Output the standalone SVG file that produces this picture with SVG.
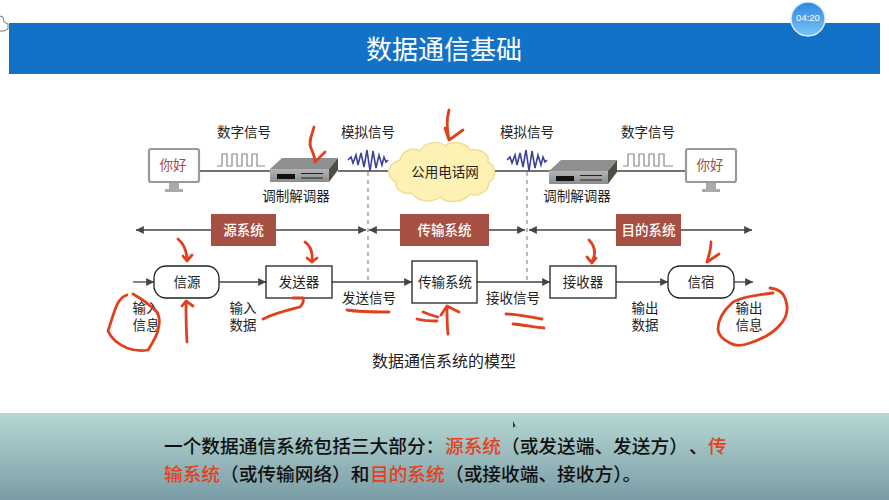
<svg xmlns="http://www.w3.org/2000/svg" width="889" height="500" viewBox="0 0 889 500">
<style>
text{font-family:"Noto Sans CJK SC","Noto Sans",sans-serif;text-anchor:middle;dominant-baseline:central;fill:#222}
.l{font-size:13.5px}
.tag{font-size:13.5px;fill:#fff;font-weight:500}
.box{fill:#fff;stroke:#222;stroke-width:1.3}
.ln{stroke:#444;stroke-width:1.3;fill:none}
.dash{stroke:#aaa;stroke-width:1.6;stroke-dasharray:4 4;fill:none}
.red{stroke:#e0401c;stroke-width:2.8;fill:none;stroke-linecap:round;stroke-linejoin:round}
.mon{fill:#fff;stroke:#999;stroke-width:2.2}
.stand{fill:#aaa}
.hi{font-size:13.5px;fill:#a64b3f}
.wave{fill:none;stroke:#3f4296;stroke-width:1.6}
.sq{fill:none;stroke:#888;stroke-width:1.2}
.o{fill:#e4421c}
.b{font-size:18.7px;text-anchor:start;font-weight:500;fill:#111}
</style>
<defs>
<marker id="a" markerWidth="7" markerHeight="6" refX="6" refY="3" orient="auto-start-reverse"><path d="M0 0L6 3L0 6z" fill="#444"/></marker>
<linearGradient id="band" x1="0" y1="0" x2="0" y2="1"><stop offset="0" stop-color="#b6d8d2"/><stop offset="1" stop-color="#7a9ca6"/></linearGradient>
<linearGradient id="clock" x1="0" y1="0" x2="0" y2="1"><stop offset="0" stop-color="#2f86e0"/><stop offset="1" stop-color="#7cc4f5"/></linearGradient>
<linearGradient id="front" x1="0" y1="0" x2="0" y2="1"><stop offset="0" stop-color="#b5b5b5"/><stop offset="1" stop-color="#8c8c8c"/></linearGradient>
<g id="modem">
<path d="M0 11L12 0H68L59 11z" fill="#8f8f8f"/>
<path d="M0 11H59V24H0z" fill="url(#front)"/>
<path d="M59 11L68 0V12L59 24z" fill="#4a4f45"/>
<rect x="7" y="16" width="18" height="5" fill="#111"/>
<path d="M31 15.500H53M31 20H53" stroke="#222" stroke-width="1.200"/>
</g>
</defs>
<rect width="889" height="500" fill="#fff"/>
<g id="header">
<rect x="9" y="23" width="871" height="51" fill="#1272c8"/>
<text x="444" y="47.500" style="font-size:26px;fill:#fff">数据通信基础</text>
<circle cx="808" cy="19" r="17" fill="url(#clock)" stroke="#d5ecfb" stroke-width="1.500"/>
<text x="808" y="17.500" style="font-size:9.500px;fill:#fff;font-family:'Liberation Sans',sans-serif">04:20</text>
<path d="M0 16L3 17L4 22L8 24V29L4 31H0" fill="#fff" stroke="#777"/>
</g>
<g id="connectors">
<path class="ln" d="M199 171H270M338 171H388M495 171H550M607 171H685"/>
<path class="dash" d="M368 172V281M527 172V281"/>
<path class="ln" marker-start="url(#a)" marker-end="url(#a)" d="M136 230H366"/>
<path class="ln" marker-start="url(#a)" marker-end="url(#a)" d="M369 230H525"/>
<path class="ln" marker-start="url(#a)" marker-end="url(#a)" d="M529 230H752"/>
<path class="ln" marker-end="url(#a)" d="M133 282H154"/>
<path class="ln" marker-end="url(#a)" d="M219 282H266"/>
<path class="ln" marker-end="url(#a)" d="M332 282H412"/>
<path class="ln" marker-end="url(#a)" d="M477 282H550"/>
<path class="ln" marker-end="url(#a)" d="M616 282H668"/>
<path class="ln" marker-end="url(#a)" d="M734 282H753"/>
</g>
<g id="monitor-left"><rect class="mon" x="149" y="149" width="50" height="33" rx="2"/><path class="stand" d="M169 183H179V189H183V192H165V189H169z"/><text class="hi" x="173" y="164">你好</text></g>
<g id="monitor-right"><rect class="mon" x="686" y="149" width="50" height="33" rx="2"/><path class="stand" d="M706 183H716V189H720V192H702V189H706z"/><text class="hi" x="710" y="164">你好</text></g>
<g id="digital-left"><path class="sq" d="M217 166H222V154H227V166H232V154H237V166H242V154H247V166H252V154H257V166H265"/><text class="l" x="244" y="131">数字信号</text></g>
<g id="digital-right"><path class="sq" d="M623 166H628V154H634V166H639V154H644V166H649V154H654V166H659V154H664V166H673"/><text class="l" x="648" y="131">数字信号</text></g>
<g id="modem-left"><use href="#modem" x="270" y="158"/><text class="l" x="296" y="195">调制解调器</text></g>
<g id="modem-right"><use href="#modem" x="549" y="160"/><text class="l" x="577" y="195">调制解调器</text></g>
<g id="analog-left"><path class="wave" d="M348 160L351 157L353 163L356 155L358 165L361 153L364 167L367 150L370 171L373 151L376 168L379 155L382 165L384 157L386 162L388 160"/><text class="l" x="368" y="131">模拟信号</text></g>
<g id="analog-right"><path class="wave" d="M507 160L510 157L512 163L515 155L517 165L520 153L523 167L526 150L529 171L532 151L535 168L538 155L541 165L543 157L545 162L547 160"/><text class="l" x="527" y="131">模拟信号</text></g>
<g id="cloud"><path d="M400 160C403 149 414 147 420 151C424 142 438 140 445 146C452 140 466 142 470 150C480 148 490 154 488 162C496 166 497 178 489 182C489 192 478 197 470 194C463 203 447 204 440 197C431 204 416 201 412 193C403 195 395 190 396 182C386 178 386 164 400 160z" fill="#fdf1b4" stroke="#efdf94" stroke-width="1.500"/><text class="l" x="445" y="171">公用电话网</text></g>
<g id="tag-source"><rect x="211" y="214" width="65" height="32" fill="#a64f42"/><text class="tag" x="243.500" y="229">源系统</text></g>
<g id="tag-transmit"><rect x="400" y="214" width="89" height="32" fill="#a64f42"/><text class="tag" x="444.500" y="229">传输系统</text></g>
<g id="tag-dest"><rect x="616" y="214" width="65" height="32" fill="#a64f42"/><text class="tag" x="648.500" y="229">目的系统</text></g>
<g id="n-source"><rect class="box" x="154" y="266" width="65" height="32" rx="12"/><text class="l" x="187" y="281">信源</text></g>
<g id="n-sender"><rect class="box" x="266" y="266" width="66" height="32"/><text class="l" x="299" y="281">发送器</text></g>
<g id="n-transmit"><rect class="box" x="412" y="261" width="65" height="42"/><text class="l" x="445" y="281">传输系统</text></g>
<g id="n-receiver"><rect class="box" x="550" y="266" width="66" height="32"/><text class="l" x="583" y="281">接收器</text></g>
<g id="n-dest"><rect class="box" x="668" y="266" width="66" height="32" rx="12"/><text class="l" x="701" y="281">信宿</text></g>
<g id="labels">
<text class="l" x="369" y="297">发送信号</text><text class="l" x="513" y="297">接收信号</text>
<text class="l" x="146" y="307">输入</text><text class="l" x="146" y="324">信息</text>
<text class="l" x="243" y="307">输入</text><text class="l" x="243" y="324">数据</text>
<text class="l" x="645" y="307">输出</text><text class="l" x="645" y="324">数据</text>
<text class="l" x="749" y="307">输出</text><text class="l" x="749" y="324">信息</text>
<text x="444" y="360" style="font-size:16px">数据通信系统的模型</text>
</g>
<g id="annotations">
<path class="red" d="M314 127C312 135 308 142 311 148C313 153 315 157 315 162L325 152"/>
<path class="red" d="M449 110C446 120 447 130 449 140L463 130M445 128L449 140"/>
<path class="red" d="M178 239C184 244 187 250 187 261M183 256L187 261L192 255"/>
<path class="red" d="M305 242C311 246 313 252 312 262M307 258L312 262L317 258"/>
<path class="red" d="M187 342C186 328 186 315 186 302M182 306L186 301L193 306"/>
<path class="red" d="M127 295C117 298 115 310 108 331C112 340 120 345 127 348C135 351 143 351 148 350C153 342 157 336 158 330C160 322 160 318 157 312C150 305 142 299 133 294"/>
<path class="red" d="M263 319C275 313 288 310 300 307C303 304 304 301 303 298L293 298"/>
<path class="red" d="M347 310C360 312 375 312 389 312"/>
<path class="red" d="M423 312C428 314 433 316 438 317M417 319C424 321 430 321 437 321"/>
<path class="red" d="M448 334C447 325 447 316 447 307M441 315L447 306L459 312"/>
<path class="red" d="M506 314C518 314 530 317 542 319M513 324C524 325 534 327 544 328"/>
<path class="red" d="M589 240C595 246 596 254 592 262M587 257L592 263L596 258"/>
<path class="red" d="M711 242C711 249 709 255 707 262L719 254"/>
<path class="red" d="M770 288C778 289 783 292 785 298C789 308 787 318 779 326C772 334 762 339 750 343C742 346 735 346 730 343C722 339 718 334 718 329C718 322 722 312 732 303C738 298 755 295 773 293"/>
</g>
<g id="footer">
<rect x="0" y="413" width="889" height="87" fill="url(#band)"/>
<path d="M513 421L513 428L515 426L517 429z" fill="#333"/>
<text class="b" x="164" y="444">一个数据通信系统包括三大部分：<tspan class="o" x="445">源系统</tspan><tspan x="501">（或发送端、发送方）</tspan><tspan x="689">、</tspan><tspan class="o" x="708">传</tspan></text>
<text class="b" x="164" y="472"><tspan class="o">输系统</tspan><tspan x="220">（或传输网络）和</tspan><tspan class="o" x="370">目的系统</tspan><tspan x="445">（或接收端、接收方）。</tspan></text>
</g>
</svg>
